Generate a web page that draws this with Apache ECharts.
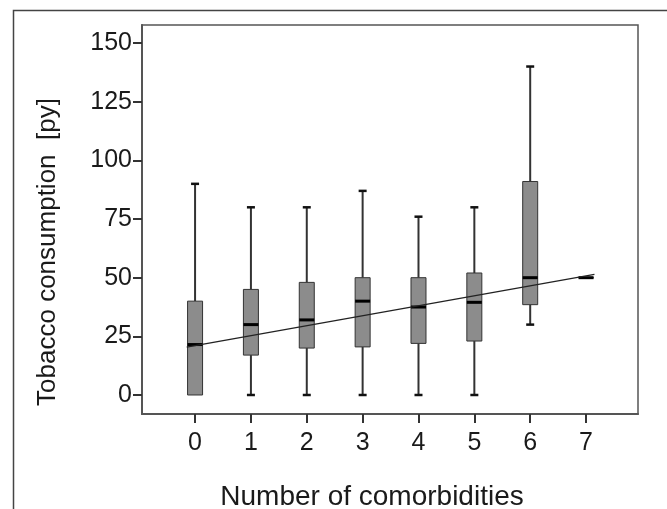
<!DOCTYPE html>
<html>
<head>
<meta charset="utf-8">
<script src="https://cdn.jsdelivr.net/npm/echarts@6/dist/echarts.min.js"></script>
<style>html,body{margin:0;padding:0;background:#fff;}#c{width:667px;height:509px;}</style>
</head>
<body>
<div id="c"></div>
<script>
// Data
const categories = [0, 1, 2, 3, 4, 5, 6, 7];
const whiskerLow = [0, 0, 0, 0, 0, 0, 30, 50];
const q1 = [0, 17, 20, 20.5, 22, 23, 38.5, 50];
const median = [21.5, 30, 32, 40, 37.5, 39.5, 50, 50];
const q3 = [40, 45, 48, 50, 50, 52, 91, 50];
const whiskerHigh = [90, 80, 80, 87, 76, 80, 140, 50];
const trendX = [-0.15, 7.15];
const trendY = [20.4, 51.4];
const yTicks = [0, 25, 50, 75, 100, 125, 150];
const xTicks = [0, 1, 2, 3, 4, 5, 6, 7];

const boxData = categories.map((c, i) => [c, whiskerLow[i], q1[i], median[i], q3[i], whiskerHigh[i]]);
const trendData = trendX.map((x, i) => [x, trendY[i]]);

const FONT = '"Liberation Sans", Arial, sans-serif';
const BOX_W = 15, CAP_W = 8;

function renderBox(params, api) {
  const x = api.value(0);
  const lo = api.value(1), a = api.value(2), m = api.value(3), b = api.value(4), hi = api.value(5);
  const pLo = api.coord([x, lo]), pA = api.coord([x, a]), pM = api.coord([x, m]), pB = api.coord([x, b]), pHi = api.coord([x, hi]);
  const cx = pM[0];
  const children = [];
  if (hi > b) {
    children.push({type: 'line', shape: {x1: cx, y1: pHi[1], x2: cx, y2: pB[1]}, style: {stroke: '#333', lineWidth: 2}});
    children.push({type: 'line', shape: {x1: cx - CAP_W / 2, y1: pHi[1], x2: cx + CAP_W / 2, y2: pHi[1]}, style: {stroke: '#111', lineWidth: 2.5}});
  }
  if (lo < a) {
    children.push({type: 'line', shape: {x1: cx, y1: pA[1], x2: cx, y2: pLo[1]}, style: {stroke: '#333', lineWidth: 2}});
    children.push({type: 'line', shape: {x1: cx - CAP_W / 2, y1: pLo[1], x2: cx + CAP_W / 2, y2: pLo[1]}, style: {stroke: '#111', lineWidth: 2.5}});
  }
  children.push({type: 'rect', shape: {x: cx - BOX_W / 2, y: pB[1], width: BOX_W, height: pA[1] - pB[1]}, style: {fill: '#8c8c8c', stroke: '#333', lineWidth: 1}});
  children.push({type: 'line', shape: {x1: cx - BOX_W / 2, y1: pM[1], x2: cx + BOX_W / 2, y2: pM[1]}, style: {stroke: '#000', lineWidth: 3}});
  return {type: 'group', children: children};
}

const chart = echarts.init(document.getElementById('c'), null, {renderer: 'canvas'});
chart.setOption({
  animation: false,
  backgroundColor: '#fff',
  grid: {left: 142, right: 29, top: 25, bottom: 95, show: true, borderColor: '#555', borderWidth: 1.5, backgroundColor: 'transparent'},
  xAxis: {
    type: 'value', min: -0.95, max: 7.93,
    axisLine: {show: true, onZero: false, lineStyle: {color: '#555', width: 2}},
    axisTick: {show: true, length: 9, lineStyle: {color: '#333', width: 2}, customValues: xTicks},
    axisLabel: {show: true, margin: 17, fontSize: 25, fontFamily: FONT, color: '#1a1a1a', customValues: xTicks},
    splitLine: {show: false}
  },
  yAxis: {
    type: 'value', min: -8.1, max: 157.7,
    axisLine: {show: true, onZero: false, lineStyle: {color: '#555', width: 2}},
    axisTick: {show: true, length: 9, lineStyle: {color: '#333', width: 2}, customValues: yTicks},
    axisLabel: {show: true, margin: 10, fontSize: 25, fontFamily: FONT, color: '#1a1a1a', customValues: yTicks},
    splitLine: {show: false}
  },
  graphic: [
    {type: 'rect', left: 11, top: 8, shape: {width: 660, height: 520}, style: {fill: 'none', stroke: '#444', lineWidth: 1.5}, silent: true},
    {type: 'text', x: 48, y: 252, rotation: Math.PI / 2, style: {text: 'Tobacco consumption  [py]', font: '26px ' + FONT, fill: '#1a1a1a', textAlign: 'center', textVerticalAlign: 'middle'}},
    {type: 'text', x: 372, y: 497, style: {text: 'Number of comorbidities', font: '28px ' + FONT, fill: '#1a1a1a', textAlign: 'center', textVerticalAlign: 'middle'}}
  ],
  series: [
    {type: 'custom', renderItem: renderBox, data: boxData, encode: {x: 0, y: [1, 2, 3, 4, 5]}, clip: false, z: 2},
    {type: 'line', data: trendData, symbol: 'none', lineStyle: {color: '#222', width: 1.3}, z: 3}
  ]
});
</script>
</body>
</html>
